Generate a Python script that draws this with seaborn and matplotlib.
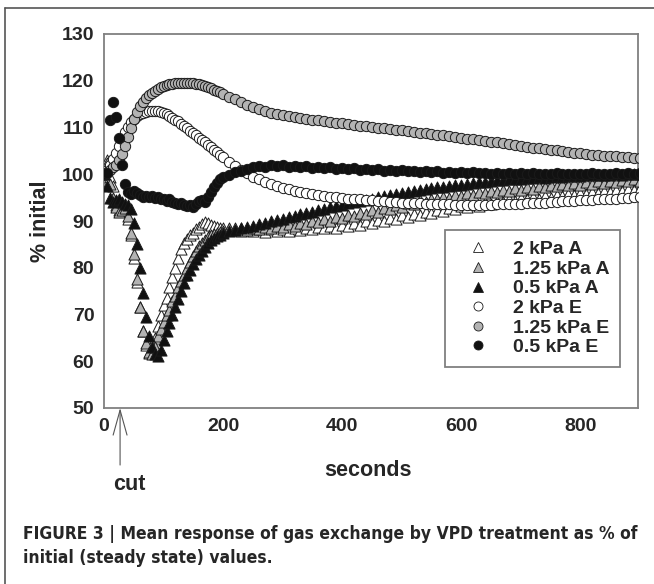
import numpy as np
import pandas as pd
import matplotlib.pyplot as plt
import seaborn as sns
from matplotlib.lines import Line2D

# sampling times (s): every 5 s up to 195, then every 10 s
seconds = list(range(0, 200, 5)) + list(range(200, 901, 10))

# % of initial value
a_2kpa = [100, 103, 99.5, 97.5, 93.5, 92.3, 92.5, 93, 90.5, 87, 82, 77, 71.5, 66.5, 63.5, 61.8, 62.5, 65, 67.5, 70,
          72, 73.5, 75.8, 78, 80, 82, 84, 85.3, 86.2, 86.9, 87.5, 88.2, 88.8, 89.4, 89.8, 89.5, 89.2, 88.9, 88.7, 88.6,
          88.5, 88.1, 88.6, 87.9, 88.3, 87.8, 88.3, 87.7, 88.2, 87.8, 88.3, 87.9, 88.4, 88.0, 88.6, 88.2, 88.8, 88.4,
          89.0, 88.6, 89.2, 88.9, 89.5, 89.2, 89.9, 89.6, 90.3, 90.0, 90.7, 90.4, 91.2, 90.9, 91.6, 91.3, 92.0, 91.7,
          92.4, 92.1, 92.8, 92.5, 93.2, 92.9, 93.6, 93.3, 94.0, 93.7, 94.3, 94.0, 94.6, 94.3, 94.9, 94.6, 95.1, 94.8,
          95.4, 95.0, 95.6, 95.3, 95.8, 95.5, 96.0, 95.7, 96.3, 96.0, 96.5, 96.2, 96.7, 96.4, 96.9, 96.6, 97.0]
a_125kpa = [100, 102.5, 98, 95, 93, 92, 92.3, 92.8, 91, 87.5, 83, 77.5, 71.5, 66.5, 63.8, 62, 61.5, 63, 65.3, 67,
            68.5, 69.8, 71, 72.8, 74, 75.8, 77.2, 78.5, 80, 81.3, 82.6, 83.5, 84.6, 85.4, 86, 86.6, 87, 87.3, 87.5, 87.7,
            87.9, 88.4, 88.0, 88.5, 88.1, 88.6, 88.2, 88.8, 88.4, 89.0, 88.7, 89.3, 88.9, 89.6, 89.3, 90.0, 89.7, 90.4,
            90.1, 90.8, 90.6, 91.3, 91.0, 91.8, 91.5, 92.3, 92.0, 92.8, 92.6, 93.4, 93.1, 93.9, 93.6, 94.4, 94.1, 94.8,
            94.6, 95.2, 95.0, 95.6, 95.3, 95.9, 95.6, 96.2, 95.9, 96.5, 96.2, 96.7, 96.4, 97.0, 96.7, 97.2, 96.9, 97.5,
            97.2, 97.7, 97.4, 98.0, 97.6, 98.2, 97.8, 98.3, 98.0, 98.5, 98.2, 98.6, 98.3, 98.8, 98.5, 98.9, 98.6]
a_05kpa = [100, 97.5, 95, 94, 94.5, 94.8, 94, 93.7, 93.5, 92.5, 89.5, 85, 80, 74.5, 69.5, 65.5, 63, 61.5, 61.2, 62.5,
           64.5, 66.5, 68.2, 70, 71.5, 73.3, 75, 76.8, 78.5, 79.6, 80.8, 81.8, 82.7, 83.6, 84.5, 85.3, 85.9, 86.4, 86.8, 87.1,
           87.4, 87.8, 88.1, 88.5, 88.7, 89.0, 89.4, 89.6, 90.0, 90.2, 90.5, 90.9, 91.1, 91.5, 91.7, 92.0, 92.4, 92.6,
           93.0, 93.2, 93.5, 93.8, 94.0, 94.3, 94.5, 94.8, 95.1, 95.3, 95.6, 95.8, 96.0, 96.3, 96.4, 96.7, 96.8, 97.0,
           97.2, 97.3, 97.5, 97.6, 97.8, 98.0, 98.1, 98.3, 98.4, 98.5, 98.7, 98.7, 98.9, 98.9, 99.0, 99.2, 99.2, 99.4,
           99.3, 99.4, 99.6, 99.5, 99.7, 99.6, 99.7, 99.9, 99.8, 99.9, 99.8, 99.9, 100.1, 99.9, 100.1, 100.0, 100.1]
e_2kpa = [100, 101, 102, 103.2, 104.6, 106, 107.5, 109, 110.2, 111.2, 111.9, 112.5, 112.9, 113.2, 113.4, 113.5, 113.6,
          113.6, 113.5, 113.3, 113.1, 112.8, 112.5, 112.1, 111.7, 111.3, 110.8, 110.3, 109.8, 109.3, 108.8, 108.3, 107.8,
          107.3, 106.8, 106.3, 105.8, 105.2, 104.7, 104.1,
          103.6, 102.6, 101.7, 100.9, 100.2, 99.5, 98.9, 98.4, 97.9, 97.5, 97.1, 96.8, 96.5, 96.2, 96.0, 95.8, 95.6, 95.4,
          95.2, 95.1, 94.9, 94.8, 94.7, 94.6, 94.5, 94.4, 94.3, 94.2, 94.1, 94.0, 93.9, 93.9, 93.8, 93.8, 93.7, 93.7,
          93.6, 93.6, 93.6, 93.5, 93.5, 93.5, 93.5, 93.5, 93.5, 93.5, 93.6, 93.6, 93.6, 93.7, 93.7, 93.8, 93.8, 93.9,
          93.9, 94.0, 94.1, 94.2, 94.2, 94.3, 94.4, 94.5, 94.5, 94.6, 94.7, 94.8, 94.8, 94.9, 95.0, 95.1, 95.2]
e_125kpa = [100, 100.5, 101, 101.5, 102, 103, 104.3, 106, 108, 110, 111.8, 113.3, 114.5, 115.5, 116.3, 116.9, 117.4,
            117.9, 118.3, 118.6, 118.9, 119.1, 119.3, 119.4, 119.5, 119.6, 119.6, 119.6, 119.6, 119.6, 119.5, 119.4,
            119.3, 119.1, 118.9, 118.7, 118.4, 118.1, 117.8, 117.5,
            117.2, 116.6, 116.0, 115.4, 114.9, 114.4, 114.0, 113.6, 113.2, 112.9, 112.6, 112.4, 112.2, 112.0, 111.8,
            111.6, 111.5, 111.3, 111.2, 111.0, 110.9, 110.7, 110.6, 110.4, 110.3, 110.1, 110.0, 109.8, 109.7, 109.5,
            109.4, 109.2, 109.1, 108.9, 108.8, 108.6, 108.5, 108.3, 108.1, 108.0, 107.8, 107.6, 107.5, 107.3, 107.1,
            107.0, 106.8, 106.6, 106.4, 106.3, 106.1, 105.9, 105.7, 105.6, 105.4, 105.2, 105.1, 104.9, 104.8, 104.6,
            104.5, 104.4, 104.2, 104.1, 104.0, 103.9, 103.8, 103.7, 103.6, 103.5, 103.4]
e_05kpa = [100, 100.3, 111.6, 115.5, 112.2, 107.8, 102, 98, 96.2, 95.8, 96.4, 95.9, 95.6, 95.2, 95.4, 95.1, 95.3, 94.9,
           95.2, 94.8, 94.6, 94.3, 94.6, 94.1, 93.9, 93.6, 93.9, 93.4, 93.2, 93.5, 93.0, 93.6, 94.2, 94.5, 94.1, 95.2,
           96.2, 97.3, 98.2, 98.9,
           99.4, 99.9, 100.4, 100.8, 101.2, 101.5, 101.8, 101.6, 102.0, 101.8, 101.9, 101.6, 101.8, 101.5, 101.7, 101.4,
           101.6, 101.3, 101.5, 101.2, 101.4, 101.1, 101.3, 101.0, 101.2, 100.9, 101.1, 100.8, 101.0, 100.7, 100.9,
           100.6, 100.8, 100.5, 100.7, 100.4, 100.6, 100.3, 100.5, 100.3, 100.4, 100.2, 100.4, 100.2, 100.3, 100.1,
           100.3, 100.1, 100.2, 100.0, 100.2, 100.0, 100.2, 100.0, 100.1, 100.0, 100.2, 100.0, 100.1, 100.0, 100.1,
           100.0, 100.2, 100.0, 100.1, 100.0, 100.2, 100.1, 100.2, 100.1, 100.2]

labels = ['2 kPa A', '1.25 kPa A', '0.5 kPa A', '2 kPa E', '1.25 kPa E', '0.5 kPa E']
series = [a_2kpa, a_125kpa, a_05kpa, e_2kpa, e_125kpa, e_05kpa]
markers = ['^', '^', '^', 'o', 'o', 'o']
faces = ['white', '#b3b3b3', '#111111', 'white', '#b3b3b3', '#111111']

df = pd.concat([pd.DataFrame({'seconds': seconds, 'pct': vals, 'treatment': lab})
                for lab, vals in zip(labels, series)], ignore_index=True)

sns.set_style('white')
plt.rcParams['font.family'] = ['Liberation Sans', 'DejaVu Sans']
plt.rcParams['font.weight'] = 'bold'

fig = plt.figure(figsize=(6.54, 5.84), dpi=100)
ax = fig.add_axes([104 / 654, 1 - 408 / 584, 533.5 / 654, 374 / 584])

for lab, mk, fc in zip(labels, markers, faces):
    sub = df[df['treatment'] == lab]
    sns.scatterplot(data=sub, x='seconds', y='pct', marker=mk, color=fc, edgecolor='#1a1a1a',
                    linewidth=0.7, s=64 if mk == '^' else 55, ax=ax, legend=False, zorder=3)

ax.set_xlim(0, 896)
ax.set_ylim(50, 130)
ax.set_xticks([0, 200, 400, 600, 800])
ax.set_yticks(range(50, 131, 10))
ax.tick_params(direction='in', length=4, width=1, color='#808080', labelsize=14, pad=7)
for sp in ax.spines.values():
    sp.set_color('#808080')
    sp.set_linewidth(1.3)

ax.set_xlabel('seconds', fontsize=15.5, fontweight='bold')
ax.xaxis.set_label_coords(0.495, -0.14)
ax.set_ylabel('% initial', fontsize=15.5, fontweight='bold')
ax.yaxis.set_label_coords(-0.10, 0.5)

handles = [Line2D([], [], ls='', marker=mk, markerfacecolor=fc, markeredgecolor='#1a1a1a',
                  markeredgewidth=0.6, markersize=6.5) for mk, fc in zip(markers, faces)]
leg = ax.legend(handles, labels, loc='upper left', bbox_to_anchor=(0.639, 0.476), borderaxespad=0,
                fontsize=14, frameon=True, fancybox=False, framealpha=1, edgecolor='#808080',
                handlelength=2.3, handletextpad=0.65, labelspacing=0.1, borderpad=0.55)
leg.get_frame().set_linewidth(1.3)

# cut arrow below the axis
ax.annotate('', xy=(27, 50), xytext=(27, 37.8), annotation_clip=False,
            arrowprops=dict(arrowstyle='->,head_length=1.8,head_width=0.5', color='#555555', lw=0.8,
                            shrinkA=0, shrinkB=0))
fig.text(129 / 654, 1 - 485 / 584, 'cut', fontsize=15.5, fontweight='bold', ha='center', va='center')

# panel border lines
fig.add_artist(Line2D([5 / 654, 5 / 654], [0, 1 - 8 / 584], transform=fig.transFigure, color='#555555', lw=1.2))
fig.add_artist(Line2D([5 / 654, 1], [1 - 8 / 584, 1 - 8 / 584], transform=fig.transFigure, color='#555555', lw=1.2))

cap_kw = dict(fontsize=12.5, fontweight='bold', family=['DejaVu Sans'], stretch='condensed',
              va='center', ha='left')
fig.text(23 / 654, 1 - 534 / 584, 'FIGURE 3 | Mean response of gas exchange by VPD treatment as % of', **cap_kw)
fig.text(23 / 654, 1 - 558 / 584, 'initial (steady state) values.', **cap_kw)

fig.savefig('out.png', dpi=100)
